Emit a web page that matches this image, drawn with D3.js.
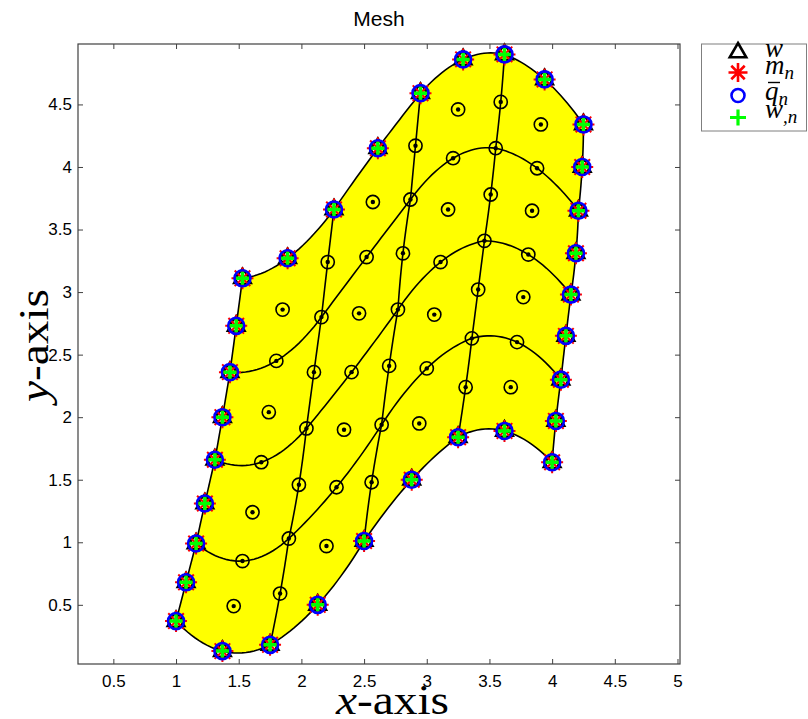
<!DOCTYPE html>
<html>
<head>
<meta charset="utf-8">
<script src="https://cdn.jsdelivr.net/npm/d3@7"></script>
<style>
  body { margin: 0; background: #fff; overflow: hidden; }
  svg { display: block; }
</style>
</head>
<body>
<svg id="chart" width="808" height="719"></svg>
<script>
// Nodes of a 4x4 mesh of quadratic elements (9x9 nodes); one row per j, bottom to top
const nodeX = [
  [1.00, 1.37, 1.75, 2.13, 2.50, 2.88, 3.25, 3.62, 4.00],
  [1.08, 1.46, 1.83, 2.20, 2.56, 2.94, 3.31, 3.67, 4.03],
  [1.16, 1.53, 1.90, 2.28, 2.64, 3.00, 3.36, 3.72, 4.07],
  [1.23, 1.61, 1.98, 2.34, 2.70, 3.06, 3.41, 3.77, 4.11],
  [1.31, 1.68, 2.04, 2.40, 2.77, 3.11, 3.46, 3.81, 4.15],
  [1.37, 1.74, 2.10, 2.46, 2.81, 3.17, 3.51, 3.84, 4.19],
  [1.43, 1.80, 2.16, 2.52, 2.87, 3.21, 3.55, 3.88, 4.21],
  [1.48, 1.85, 2.21, 2.57, 2.91, 3.25, 3.59, 3.91, 4.24],
  [1.53, 1.89, 2.26, 2.61, 2.95, 3.29, 3.62, 3.94, 4.25]
];
const nodeY = [
  [0.37, 0.13, 0.18, 0.50, 1.01, 1.50, 1.84, 1.89, 1.64],
  [0.68, 0.49, 0.59, 0.97, 1.48, 1.95, 2.24, 2.24, 1.97],
  [0.99, 0.85, 1.03, 1.44, 1.94, 2.39, 2.63, 2.60, 2.30],
  [1.31, 1.24, 1.46, 1.90, 2.41, 2.82, 3.02, 2.96, 2.65],
  [1.66, 1.64, 1.91, 2.36, 2.86, 3.24, 3.41, 3.30, 2.98],
  [2.00, 2.04, 2.36, 2.83, 3.31, 3.66, 3.78, 3.65, 3.31],
  [2.36, 2.45, 2.80, 3.28, 3.74, 4.07, 4.15, 3.99, 3.65],
  [2.73, 2.86, 3.24, 3.72, 4.17, 4.46, 4.52, 4.34, 4.00],
  [3.11, 3.27, 3.66, 4.15, 4.59, 4.86, 4.90, 4.70, 4.34]
];

const xTicks = [0.5, 1, 1.5, 2, 2.5, 3, 3.5, 4, 4.5, 5];
const yTicks = [0.5, 1, 1.5, 2, 2.5, 3, 3.5, 4, 4.5];
const xDomain = [0.218, 5.02];
const yDomain = [0.027, 4.983];
const titleText = "Mesh";

const svg = d3.select("#chart");
const plot = { left: 78, right: 680, top: 44, bottom: 664 };

const x = d3.scaleLinear().domain(xDomain).range([plot.left, plot.right]);
const y = d3.scaleLinear().domain(yDomain).range([plot.bottom, plot.top]);

const n = nodeX.length;
const node = (i, j) => ({ x: nodeX[j][i], y: nodeY[j][i] });

// Quadratic element edges: interpolate each consecutive triple of nodes
function quadraticPath(pts) {
  const out = [];
  for (let e = 0; e + 2 < pts.length; e += 2) {
    const [p0, p1, p2] = [pts[e], pts[e + 1], pts[e + 2]];
    const steps = 24;
    for (let s = (e === 0 ? 0 : 1); s <= steps; s++) {
      const t = -1 + 2 * s / steps;
      const a = t * (t - 1) / 2, b = 1 - t * t, c = t * (t + 1) / 2;
      out.push({ x: a * p0.x + b * p1.x + c * p2.x, y: a * p0.y + b * p1.y + c * p2.y });
    }
  }
  return out;
}

const rowLine = j => d3.range(n).map(i => node(i, j));
const colLine = i => d3.range(n).map(j => node(i, j));

const line = d3.line().x(d => x(d.x)).y(d => y(d.y));

// Domain outline: bottom, right, top (reversed), left (reversed)
const outline = [
  ...quadraticPath(rowLine(0)),
  ...quadraticPath(colLine(n - 1)),
  ...quadraticPath(rowLine(n - 1).reverse()),
  ...quadraticPath(colLine(0).reverse())
];

const g = svg.append("g");

g.append("path")
  .attr("d", line(outline) + "Z")
  .attr("fill", "#ffff00")
  .attr("stroke", "none");

// Element edges
const meshIdx = d3.range(0, n, 2);
const meshLines = [
  ...meshIdx.map(j => quadraticPath(rowLine(j))),
  ...meshIdx.map(i => quadraticPath(colLine(i)))
];
g.selectAll("path.edge").data(meshLines).join("path")
  .attr("class", "edge")
  .attr("d", line)
  .attr("fill", "none")
  .attr("stroke", "#000")
  .attr("stroke-width", 1.6);

// All nodes: ring with centre dot
const nodes = [];
for (let j = 0; j < n; j++) for (let i = 0; i < n; i++) nodes.push({ i, j, ...node(i, j) });

g.selectAll("circle.ring").data(nodes).join("circle")
  .attr("class", "ring")
  .attr("cx", d => x(d.x)).attr("cy", d => y(d.y)).attr("r", 6.6)
  .attr("fill", "none").attr("stroke", "#000").attr("stroke-width", 1.6);
g.selectAll("circle.dot").data(nodes).join("circle")
  .attr("class", "dot")
  .attr("cx", d => x(d.x)).attr("cy", d => y(d.y)).attr("r", 2.2)
  .attr("fill", "#000");

// Boundary nodes carry the four overlaid markers
const boundary = nodes.filter(d => d.i === 0 || d.j === 0 || d.i === n - 1 || d.j === n - 1);

function triangle(r) {
  return `M0,${-r}L${r * 0.866},${r / 2}L${-r * 0.866},${r / 2}Z`;
}
function asterisk(r) {
  const s = r * Math.SQRT1_2;
  return `M${-r},0L${r},0M0,${-r}L0,${r}M${-s},${-s}L${s},${s}M${-s},${s}L${s},${-s}`;
}
function plus(r) {
  return `M${-r},0L${r},0M0,${-r}L0,${r}`;
}

const bnodes = g.selectAll("g.bnode").data(boundary).join("g")
  .attr("class", "bnode")
  .attr("transform", d => `translate(${x(d.x)},${y(d.y)})`);

bnodes.append("path").attr("d", triangle(10.5))
  .attr("fill", "none").attr("stroke", "#000").attr("stroke-width", 1.6);
bnodes.append("path").attr("d", asterisk(11))
  .attr("fill", "none").attr("stroke", "#ff0000").attr("stroke-width", 2);
bnodes.append("circle").attr("r", 8)
  .attr("fill", "none").attr("stroke", "#0000ff").attr("stroke-width", 2.6);
bnodes.append("path").attr("d", plus(6.5))
  .attr("fill", "none").attr("stroke", "#00ff00").attr("stroke-width", 3.5);

// Axes box with inward ticks on all four sides
const tickFont = "'Liberation Sans', Arial, sans-serif";
const axisColor = "#404040";

const xAxis = svg.append("g").attr("transform", `translate(0,${plot.bottom})`)
  .call(d3.axisBottom(x).tickValues(xTicks).tickSizeInner(-5).tickSizeOuter(0).tickPadding(11).tickFormat(d => String(d)));
const xAxisTop = svg.append("g").attr("transform", `translate(0,${plot.top})`)
  .call(d3.axisTop(x).tickValues(xTicks).tickSizeInner(-5).tickSizeOuter(0).tickFormat(""));
const yAxis = svg.append("g").attr("transform", `translate(${plot.left},0)`)
  .call(d3.axisLeft(y).tickValues(yTicks).tickSizeInner(-5).tickSizeOuter(0).tickPadding(6).tickFormat(d => String(d)));
const yAxisRight = svg.append("g").attr("transform", `translate(${plot.right},0)`)
  .call(d3.axisRight(y).tickValues(yTicks).tickSizeInner(-5).tickSizeOuter(0).tickFormat(""));

[xAxis, xAxisTop, yAxis, yAxisRight].forEach(a => {
  a.select(".domain").remove();
  a.selectAll(".tick line").attr("stroke", axisColor).attr("stroke-width", 1);
  a.selectAll(".tick text").attr("font-family", tickFont).attr("font-size", 17).attr("fill", "#000");
});

svg.append("rect")
  .attr("x", plot.left).attr("y", plot.top)
  .attr("width", plot.right - plot.left).attr("height", plot.bottom - plot.top)
  .attr("fill", "none").attr("stroke", axisColor).attr("stroke-width", 1.2);

// Title
svg.append("text")
  .attr("x", (plot.left + plot.right) / 2).attr("y", 26)
  .attr("text-anchor", "middle")
  .attr("font-family", tickFont).attr("font-size", 21)
  .text(titleText);

// Axis labels: italic variable + roman "-axis"
const serif = "'Liberation Serif', 'Times New Roman', serif";
function axisLabel(sel, v) {
  sel.append("tspan").attr("font-style", "italic").text(v);
  sel.append("tspan").text("-axis");
}
svg.append("text")
  .attr("x", 336).attr("y", 714)
  .attr("textLength", 113).attr("lengthAdjust", "spacingAndGlyphs")
  .attr("font-family", serif).attr("font-size", 42)
  .call(axisLabel, "x");

svg.append("text")
  .attr("transform", `translate(48,402) rotate(-90)`)
  .attr("textLength", 113).attr("lengthAdjust", "spacingAndGlyphs")
  .attr("font-family", serif).attr("font-size", 42)
  .call(axisLabel, "y");

// Legend
const legendItems = [
  { base: "w", sub: "", bar: false },
  { base: "m", sub: "n", bar: false },
  { base: "q", sub: "n", bar: true },
  { base: "w", sub: ",n", bar: false }
];
const symbolRows = [50.5, 72.5, 95.5, 117.5];
const textBaselines = [57, 73.5, 99.5, 118];
const lg = svg.append("g");
lg.append("rect").attr("x", 701.5).attr("y", 44).attr("width", 105).attr("height", 87)
  .attr("fill", "#fff").attr("stroke", "#7f7f7f").attr("stroke-width", 1);

const sx = 738;
lg.append("path").attr("transform", `translate(${sx},${symbolRows[0] + 2})`)
  .attr("d", triangle(9.5)).attr("fill", "none").attr("stroke", "#000").attr("stroke-width", 2.6);
lg.append("path").attr("transform", `translate(${sx},${symbolRows[1]})`)
  .attr("d", asterisk(9.5)).attr("fill", "none").attr("stroke", "#ff0000").attr("stroke-width", 2.6);
lg.append("circle").attr("cx", sx).attr("cy", symbolRows[2]).attr("r", 6.5)
  .attr("fill", "none").attr("stroke", "#0000ff").attr("stroke-width", 2.6);
lg.append("path").attr("transform", `translate(${sx},${symbolRows[3]})`)
  .attr("d", plus(8)).attr("fill", "none").attr("stroke", "#00ff00").attr("stroke-width", 3.2);

legendItems.forEach((d, k) => {
  const t = lg.append("text")
    .attr("x", 765).attr("y", textBaselines[k])
    .attr("font-family", serif).attr("font-style", "italic").attr("font-size", 27);
  t.append("tspan").text(d.base);
  if (d.sub) {
    t.append("tspan").attr("font-size", 19).attr("dy", 5).text(d.sub);
  }
  if (d.bar) {
    lg.append("line").attr("x1", 768).attr("x2", 780)
      .attr("y1", textBaselines[k] - 17).attr("y2", textBaselines[k] - 17)
      .attr("stroke", "#000").attr("stroke-width", 1.4);
  }
});
</script>
</body>
</html>
